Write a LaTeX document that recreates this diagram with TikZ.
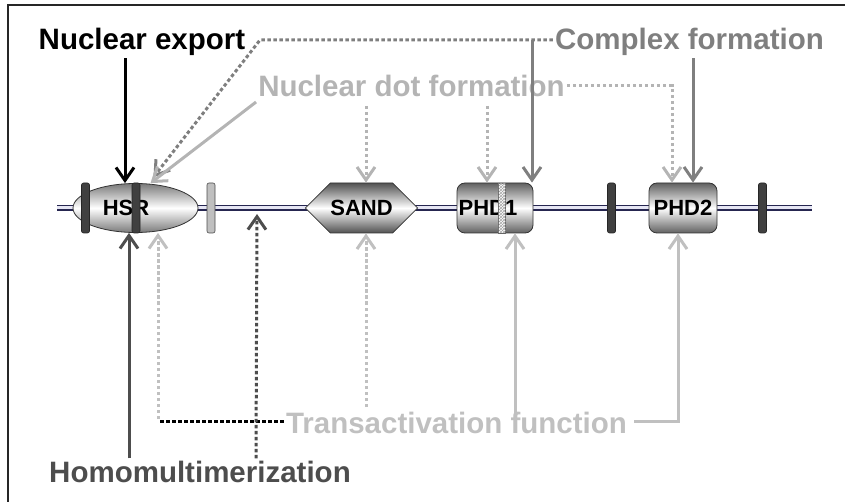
\documentclass[tikz,border=0pt]{standalone}
\usepackage{fontspec}
\setmainfont{Liberation Sans}
\usetikzlibrary{arrows.meta,shapes.geometric,shapes.symbols,patterns}

\definecolor{cplxgray}{HTML}{7F7F7F}
\definecolor{dotgray}{HTML}{B4B4B4}
\definecolor{transgray}{HTML}{C0C0C0}
\definecolor{homogray}{HTML}{4D4D4D}
\definecolor{bbnavy}{HTML}{262650}
\definecolor{bblav}{HTML}{E6E6F4}

\tikzset{
  lbl/.style={font=\fontsize{29.5}{30}\selectfont\bfseries, inner sep=2pt, anchor=base},
  dom/.style={draw=black!80, line width=0.8pt, top color=#1, bottom color=#1,
    middle color=white, minimum height=50, inner sep=0pt},
  dom/.default=black!62,
  domtxt/.style={font=\fontsize{22}{22}\selectfont\bfseries},
  bar/.style={draw=black!85, fill=black!75, line width=0.6pt, rounded corners=2,
    minimum width=8, minimum height=50, inner sep=0pt},
  arr/.style={line width=3pt, -{Straight Barb[length=13pt,width=18pt]}},
  dots/.style={dash pattern=on 3.5pt off 2.5pt},
}

\begin{document}
\begin{tikzpicture}[x=1pt, y=-1pt]
    \useasboundingbox (0,0) rectangle (845,502);

    % Frame (left and top edges)
    \draw[line width=2pt, black!85] (8,502) -- (8,5) -- (845,5);

    % Backbone
    \coordinate (bbW) at (57,208);
    \coordinate (bbE) at (812,208);
    \draw[line width=6.5pt, bbnavy] (bbW) -- (bbE);
    \draw[line width=3pt, bblav] (bbW) -- (bbE);

    % Domains
    \node[dom=black!52, ellipse, minimum width=125, minimum height=49] (hsr) at (135.5,208) {};
    \node[domtxt] (hsrlbl) at (126,208) {HSR};
    \node[bar] (barA) at (85.5,208) {};
    \node[bar] (barB) at (136,208) {};
    \node[bar, fill=black!25, draw=black!70] (barC) at (211,208) {};

    \node[dom=black!68, domtxt, signal, signal to=west and east, signal pointer angle=90,
      minimum width=109] (sand) at (361.5,208) {SAND};

    \node[dom, rounded corners=8, minimum width=76] (phdA) at (495,208) {};
    \node[domtxt] (phdAlbl) at (488,208) {PHD1};
    \node[draw=black!60, line width=0.5pt, fill=white, minimum width=7, minimum height=50,
      inner sep=0pt, postaction={pattern=crosshatch, pattern color=black!35}] (stripe) at (502,208) {};

    \node[bar] (barD) at (611.5,208) {};
    \node[dom, domtxt, rounded corners=8, minimum width=68] (phdB) at (683,208) {PHD2};
    \node[bar] (barE) at (762.5,208) {};

    % Labels
    \node[lbl] (nucexp) at (142,50) {Nuclear export};
    \node[lbl, cplxgray] (cplx) at (689.5,50) {Complex formation};
    \node[lbl, dotgray] (dotform) at (411.5,97) {Nuclear dot formation};
    \node[lbl, transgray] (transact) at (456.5,433) {Transactivation function};
    \node[lbl, homogray] (homo) at (200,482) {Homomultimerization};

    \coordinate (cpxcorner) at (260,40);
    \coordinate (cpxdrop) at (532,40);
    \coordinate (dotcorner) at (672,86);
    \coordinate (tracorner) at (158,421);
    \coordinate (transcorner) at (678,421);
    \coordinate (linker) at (257,214);

    % Nuclear export
    \draw[arr] ([xshift=-17]nucexp.south) -- ([xshift=-10.5]hsr.north);

    % Complex formation
    \draw[arr, cplxgray, dots] ([yshift=10]cplx.base west) -- (cpxcorner) -- ([xshift=18,yshift=6]hsr.north);
    \draw[arr, cplxgray] (cpxdrop) -- ([xshift=37]phdA.north);
    \draw[arr, cplxgray] ([xshift=3.5]cplx.south) -- ([xshift=10]phdB.north);

    % Nuclear dot formation
    \draw[arr, dotgray] ([yshift=-5]dotform.base west) -- ([xshift=15]hsr.north);
    \draw[arr, dotgray, dots] ([xshift=-45.5,yshift=-9]dotform.base) -- ([xshift=4.5]sand.north);
    \draw[arr, dotgray, dots] ([xshift=75.5,yshift=-9]dotform.base) -- ([xshift=-8]phdA.north);
    \draw[arr, dotgray, dots] ([yshift=11]dotform.base east) -- (dotcorner) -- ([xshift=-11]phdB.north);

    % Transactivation function
    \draw[line width=3pt, black, dots] ([yshift=12]transact.base west) -- (tracorner);
    \draw[arr, transgray, dots] ([yshift=2]tracorner) -- ([xshift=22.5]hsr.south);
    \draw[arr, transgray, dots] ([xshift=-90.5,yshift=26]transact.base) -- ([xshift=4.5]sand.south);
    \draw[arr, transgray] ([xshift=58.5,yshift=20]transact.base) -- ([xshift=20]phdA.south);
    \draw[arr, transgray] ([xshift=5,yshift=12]transact.base east) -- (transcorner) -- ([xshift=-5]phdB.south);

    % Homomultimerization
    \draw[arr, homogray] ([xshift=-71]homo.north) -- ([xshift=-6.5]hsr.south);
    \draw[arr, homogray, dots] ([xshift=56]homo.north) -- (linker);
\end{tikzpicture}
\end{document}
